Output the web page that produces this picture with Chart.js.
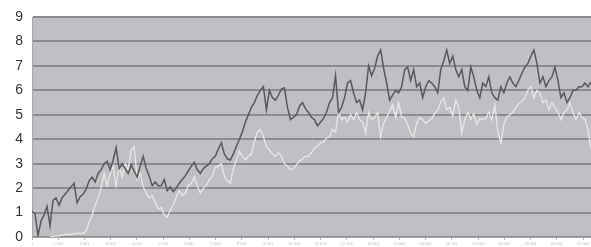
<!DOCTYPE html>
<html>
<head>
<meta charset="utf-8">
<script src="https://cdn.jsdelivr.net/npm/chart.js@4"></script>
<style>
  html, body { margin: 0; padding: 0; background: #ffffff; }
  #wrap { width: 591px; height: 247px; position: relative; }
</style>
</head>
<body>
<div id="wrap"><canvas id="chart"></canvas></div>
<script>
// dark series, sampled evenly left to right
const darkSeries = [
  1.05, 0.95, 0.05, 0.65, 0.9, 1.25, 0.45, 1.5, 1.6, 1.3,
  1.6, 1.75, 1.9, 2.05, 2.2, 1.4, 1.65, 1.75, 1.95, 2.3,
  2.45, 2.25, 2.6, 2.75, 3.0, 3.1, 2.75, 3.15, 3.65, 2.8,
  3.0, 2.8, 2.6, 2.95, 2.7, 2.45, 2.9, 3.3, 2.8, 2.5,
  2.1, 2.25, 2.1, 2.1, 2.35, 1.9, 2.05, 1.85, 2.0, 2.2,
  2.35, 2.5, 2.7, 2.9, 3.05, 2.75, 2.6, 2.8, 2.9, 3.0,
  3.2, 3.3, 3.6, 3.85, 3.4, 3.2, 3.15, 3.4, 3.7, 4.0,
  4.3, 4.7, 5.0, 5.3, 5.5, 5.8, 6.0, 6.15, 5.2, 6.0,
  5.7, 5.6, 5.8, 6.05, 6.1, 5.3, 4.8, 4.9, 5.0, 5.35,
  5.5, 5.25, 5.1, 4.9, 4.8, 4.55, 4.7, 4.85, 5.1, 5.5,
  5.7, 6.6, 5.1, 5.3, 5.7, 6.3, 6.4, 5.9, 5.5, 5.6,
  5.2, 5.9, 7.0, 6.6, 6.9, 7.4, 7.65, 6.9, 6.3, 5.6,
  5.8, 6.0, 5.9, 6.15, 6.85, 6.95, 6.4, 6.85, 6.15, 6.3,
  5.7, 6.15, 6.4, 6.3, 6.15, 5.9, 6.85, 7.2, 7.65, 7.1,
  7.4, 6.85, 6.55, 6.85, 6.15, 6.0, 6.95, 6.55, 6.0, 5.7,
  6.3, 6.15, 6.55, 5.9, 5.7, 5.6, 6.15, 5.9, 6.3, 6.55,
  6.3, 6.15, 6.4, 6.7, 6.95, 7.1, 7.4, 7.65, 7.1, 6.3,
  6.55, 6.15, 6.4, 6.55, 6.95, 6.4, 5.7, 5.9, 5.5, 5.7,
  6.0, 6.0, 6.15, 6.15, 6.3, 6.15, 6.35
];

// light series, same sampling (starts a little later)
const lightSeries = [
  null, null, null, null, null, null, 0.0, 0.02, 0.05, 0.05,
  0.08, 0.1, 0.12, 0.1, 0.15, 0.15, 0.15, 0.15, 0.25, 0.6,
  0.9, 1.3, 1.6, 2.0, 2.6, 2.1, 2.6, 2.9, 2.1, 2.9,
  2.45, 3.0, 2.75, 3.55, 3.7, 2.35, 2.6, 2.05, 1.8, 1.6,
  1.7, 1.4, 1.15, 1.2, 0.9, 0.8, 1.1, 1.3, 1.65, 1.9,
  1.7, 1.8, 2.1, 2.2, 2.45, 2.1, 1.8, 2.0, 2.1, 2.35,
  2.5, 2.85, 2.9, 3.0, 2.5, 2.3, 2.2, 2.8, 3.15, 3.5,
  3.3, 3.15, 3.3, 3.4, 3.9, 4.3, 4.4, 4.1, 3.7, 3.55,
  3.4, 3.3, 3.45, 3.3, 3.0, 2.9, 2.75, 2.8, 2.95, 3.1,
  3.2, 3.3, 3.3, 3.45, 3.65, 3.7, 3.85, 3.9, 4.05, 4.1,
  4.4, 4.3, 5.1, 4.8, 4.9, 4.7, 5.0, 4.8, 5.1, 4.8,
  4.7, 4.25, 5.1, 4.8, 4.9, 5.1, 4.1, 4.65, 4.9, 5.15,
  5.4, 4.9, 5.5, 4.9, 4.85, 4.6, 4.25, 4.1, 4.65, 4.9,
  4.8, 4.65, 4.75, 4.85, 5.05, 5.2, 5.5, 5.7, 5.2, 5.3,
  4.95, 5.6, 5.3, 4.25, 4.8, 5.1, 4.8, 5.05, 4.6, 4.85,
  4.8, 4.85, 5.1, 4.8, 5.4, 4.3, 3.85, 4.6, 4.9, 5.0,
  5.1, 5.3, 5.45, 5.55, 5.7, 6.0, 6.15, 5.7, 6.0, 5.9,
  5.5, 5.6, 5.2, 5.5, 5.3, 5.1, 4.8, 5.1, 5.2, 5.5,
  5.1, 4.8, 5.1, 4.9, 4.8, 4.4, 3.6
];

const xTickLabels = [
  '1', '1 001', '2 001', '3 001', '4 001', '5 001', '6 001', '7 001',
  '8 001', '9 001', '10 001', '11 001', '12 001', '13 001', '14 001',
  '15 001', '16 001', '17 001', '18 001', '19 001', '20 001', '21 001'
];

const yMax = 9;
const samplesPerTick = 8.733;

const sampleIdx = darkSeries.map((_, i) => i);

// grey plot background
const plotBg = {
  id: 'plotBg',
  beforeDraw(chart) {
    const { ctx, chartArea: a } = chart;
    ctx.save();
    ctx.fillStyle = '#c0c0c4';
    ctx.fillRect(a.left, a.top, a.right - a.left, a.bottom - a.top);
    ctx.restore();
  }
};

new Chart(document.getElementById('chart'), {
  type: 'line',
  data: {
    labels: sampleIdx,
    datasets: [
      {
        label: 'dark',
        data: darkSeries,
        borderColor: '#58585a',
        borderWidth: 1.5,
        pointRadius: 0,
        tension: 0,
        spanGaps: false,
      },
      {
        label: 'light',
        data: lightSeries,
        borderColor: '#e8e8e8',
        borderWidth: 1.3,
        pointRadius: 0,
        tension: 0,
        spanGaps: false,
      }
    ]
  },
  options: {
    responsive: true,
    maintainAspectRatio: false,
    animation: false,
    layout: { padding: { top: 17, right: 0, left: 0, bottom: 0 } },
    plugins: {
      legend: { display: false },
      tooltip: { enabled: false },
    },
    scales: {
      x: {
        type: 'linear',
        min: 0,
        max: darkSeries.length - 1,
        afterBuildTicks(scale) {
          scale.ticks = xTickLabels.map((_, i) => ({ value: i * samplesPerTick }));
        },
        afterFit(scale) { scale.height = 10; },
        ticks: {
          autoSkip: false,
          maxRotation: 0,
          padding: 1,
          color: '#b8b8b8',
          font: { family: 'Liberation Sans', size: 4 },
          callback: (v, i) => xTickLabels[i],
        },
        grid: { drawOnChartArea: false, color: '#b0b0b0', tickLength: 3 },
        border: { color: '#a8a8aa', width: 1 },
      },
      y: {
        min: 0,
        max: yMax,
        afterFit(scale) { scale.width = 32; },
        ticks: {
          stepSize: 1,
          padding: 0,
          color: '#333333',
          font: { family: 'Liberation Sans', size: 14 },
        },
        grid: { color: '#8c8c90', lineWidth: 2, tickLength: 9, tickColor: 'rgba(0,0,0,0)' },
        border: { display: true, color: '#a8a8aa', width: 1 },
      }
    }
  },
  plugins: [plotBg]
});
</script>
</body>
</html>
